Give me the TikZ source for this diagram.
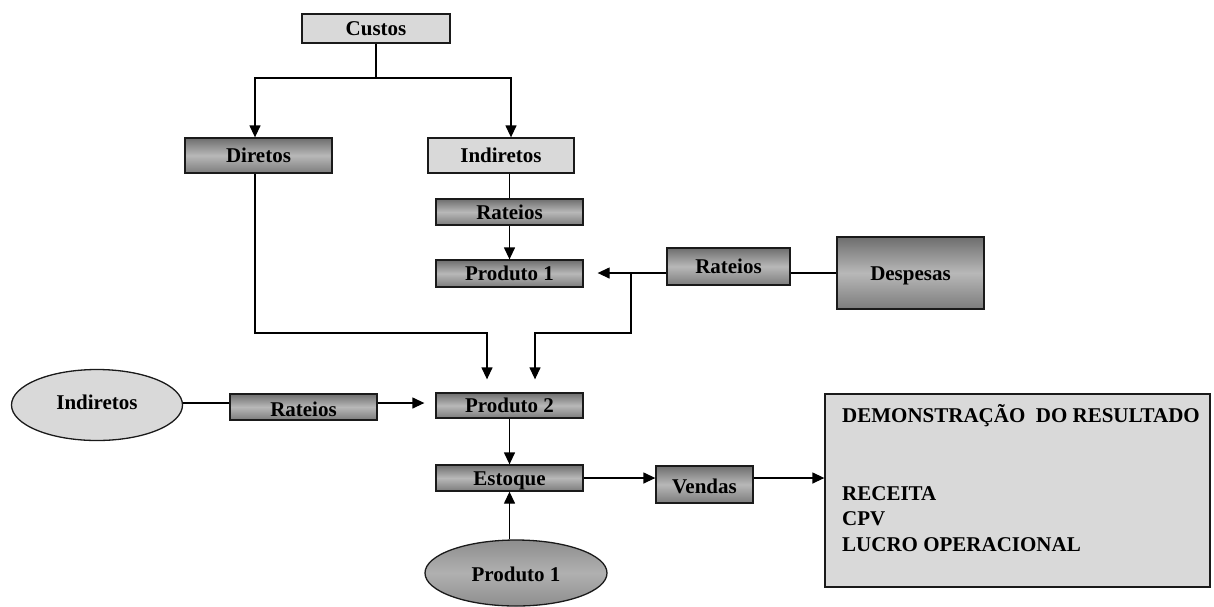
\documentclass[tikz,border=0pt]{standalone}
\usepackage{fontspec}
\setmainfont{Liberation Serif}
\usetikzlibrary{shapes.geometric,arrows.meta}
\definecolor{lightbox}{HTML}{D9D9D9}
\definecolor{shadetop}{HTML}{6E6E6E}
\definecolor{shademid}{HTML}{B8B8B8}
\definecolor{shadebot}{HTML}{7C7C7C}
\definecolor{ovaltop}{HTML}{8E8E8E}
\definecolor{ovalmid}{HTML}{B0B0B0}
\definecolor{edge}{HTML}{1A1A1A}
\begin{document}
\begin{tikzpicture}[x=1pt,y=-1pt,
  every node/.style={font=\fontsize{21}{25}\selectfont\bfseries, inner sep=0pt},
  boxtext/.style={text height=14pt, text depth=0pt},
  flatbox/.style={boxtext, rectangle, draw=edge, line width=1.3pt, fill=lightbox},
  shadebox/.style={boxtext, rectangle, draw=edge, line width=1.3pt,
    top color=shadetop, bottom color=shadebot, middle color=shademid},
  lightoval/.style={boxtext, ellipse, draw=edge, line width=1.3pt, fill=lightbox},
  darkoval/.style={boxtext, ellipse, draw=edge, line width=1.3pt,
    top color=ovaltop, bottom color=ovaltop, middle color=ovalmid},
  conn/.style={draw=black, line width=1.3pt},
  arr/.style={conn, -{Triangle[length=12pt,width=11pt]}},
  sz/.style 2 args={minimum width=#1pt, minimum height=#2pt}
]
\useasboundingbox (0,0) rectangle (1214,606);

% cost tree
\node[flatbox, sz={148}{29}] (custos) at (376,28.5) {Custos};
\node[shadebox, sz={147}{35}] (diretos) at (258.5,155.5) {Diretos};
\node[flatbox, sz={146}{35}] (indA) at (501,155.5) {Indiretos};
\node[shadebox, sz={147}{26}] (rat1) at (509.5,212) {Rateios};
\node[shadebox, sz={147}{27}] (prod1box) at (509.5,273.5) {Produto 1};
\node[shadebox, sz={123}{37}] (rat2) at (728.5,266.5) {Rateios};
\node[shadebox, sz={147}{72}] (desp) at (910.5,273) {Despesas};

% lower flow
\node[lightoval, sz={171}{71}] (indEll) at (97,405) {\raisebox{3pt}{Indiretos}};
\node[shadebox, sz={147}{26}] (rat3) at (303.5,407) {\raisebox{-2pt}{Rateios}};
\node[shadebox, sz={147}{25}] (prod2) at (509.5,405.5) {Produto 2};
\node[shadebox, sz={147}{26}] (estoque) at (509.5,478) {Estoque};
\node[darkoval, sz={182}{66}] (p1ell) at (516,573) {\raisebox{-1pt}{Produto 1}};
\node[shadebox, sz={97}{37}] (vendas) at (704.5,484.5) {\raisebox{-2pt}{Vendas}};

% income statement
\node[flatbox, sz={385}{193}] (dr) at (1017.5,490.5) {};
\node[anchor=base west] (drTitle) at (842,422) {DEMONSTRAÇÃO\ \ DO RESULTADO};
\node[anchor=base west] (drRec) at (842,500) {RECEITA};
\node[anchor=base west] (drCpv) at (842,525.5) {CPV};
\node[anchor=base west] (drLucro) at (842,551) {LUCRO OPERACIONAL};

% connectors
\coordinate (split) at (376,78);
\draw[conn] (custos.south) -- (split);
\draw[arr] (split) -| ([xshift=-3.5pt]diretos.north);
\draw[arr] (split) -| ([xshift=10pt]indA.north);
\draw[conn] (rat1.north |- indA.south) -- (rat1.north);
\draw[arr] (rat1.south) -- (prod1box.north);

\draw[conn] (desp.west) -- (rat2.east |- desp.west);
\draw[arr, shorten >=14pt] (rat2.west |- desp.west) -- (prod1box.east |- desp.west);

\coordinate (junc) at (631,273);
\coordinate (bendL) at (487,333);
\coordinate (bendR) at (535,333);
\draw[arr, shorten >=13pt] ([xshift=-3.5pt]diretos.south) |- (bendL) -- ([xshift=-22.5pt]prod2.north);
\draw[arr, shorten >=13pt] (junc) |- (bendR) -- ([xshift=25.5pt]prod2.north);

\draw[conn] (indEll.east |- 0,403) -- (rat3.west |- 0,403);
\draw[arr, shorten >=11pt] (rat3.east |- 0,403) -- (prod2.west |- 0,403);
\draw[arr] (prod2.south) -- (estoque.north);
\draw[arr] (estoque.south |- p1ell.north) -- (estoque.south);
\draw[arr] (estoque.east) -- (vendas.west |- estoque.east);
\draw[arr] (vendas.east |- estoque.east) -- (dr.west |- estoque.east);
\end{tikzpicture}
\end{document}
